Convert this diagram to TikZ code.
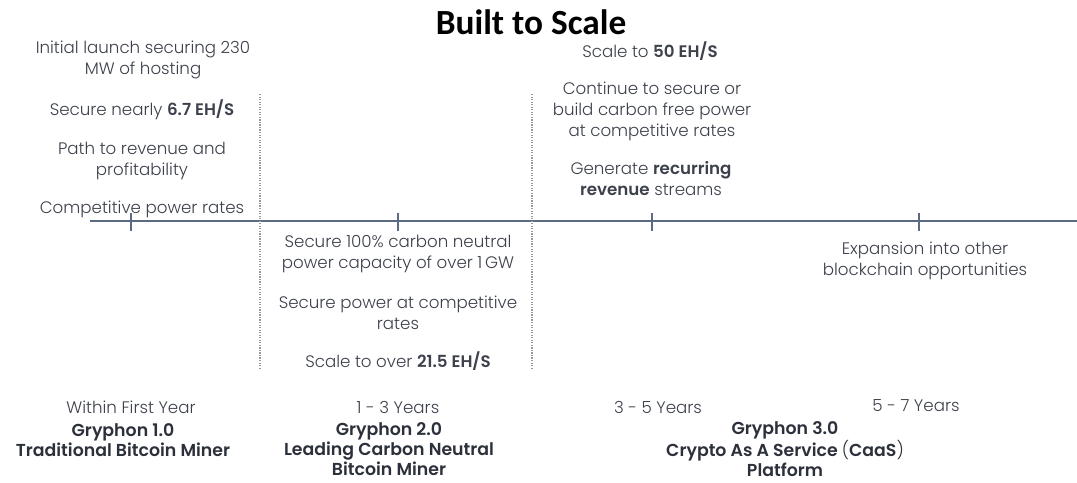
\documentclass[tikz,border=0pt]{standalone}
\usepackage{fontspec}
\setmainfont{Poppins}[UprightFont=* Light,BoldFont=* SemiBold]
\newfontfamily\titlefont{Carlito}
\usepackage{tikz}
\definecolor{gtext}{HTML}{3D414C}
\definecolor{gdark}{HTML}{2C303B}
\definecolor{gline}{HTML}{5B6A85}
\definecolor{gdots}{HTML}{9A9A9A}

\begin{document}
\begin{tikzpicture}[x=0.75pt,y=-0.75pt,
  note/.style={align=center,inner sep=0pt,text=gtext,
    font=\fontsize{12.5}{15.75}\selectfont},
  period/.style={align=center,inner sep=0pt,text=gtext,
    font=\fontsize{12.5}{15}\selectfont},
  stage/.style={align=center,inner sep=0pt,text=gdark,
    font=\fontsize{13}{15}\selectfont\bfseries},
  axis/.style={line width=1.3pt,gline},
  tick/.style={line width=0.9pt,gline},
  split/.style={densely dotted,line width=0.9pt,gdots}]
  \useasboundingbox[fill=white] (0,0) rectangle (1077,482);
  \node[font=\titlefont\fontsize{26.5}{30}\selectfont\bfseries] (title) at (531,22) {Built to Scale};

  % timeline with ticks and phase separators
  \coordinate (axisL) at (90,221);
  \coordinate (axisR) at (1077,221);
  \draw[axis] (axisL) -- (axisR);
  \foreach \x in {131,398,652,919}
    \draw[tick] (\x,213) -- (\x,231);
  \coordinate (sepAtop) at (260,94);
  \coordinate (sepAbot) at (260,368);
  \coordinate (sepBtop) at (532,94);
  \coordinate (sepBbot) at (532,368);
  \draw[split] (sepAtop) -- (sepAbot);
  \draw[split] (sepBtop) -- (sepBbot);

  % milestones above and below the line
  \node[note] (launch) at (143,60)    {Initial launch securing 230\\MW of hosting};
  \node[note] (hashA)  at (142,110)   {Secure nearly \textbf{6.7 EH/S}};
  \node[note] (path)   at (142,160.5) {Path to revenue and\\profitability};
  \node[note] (ratesA) at (142,209)   {Competitive power rates};
  \node[note] (carbon) at (398,254)   {Secure 100\% carbon neutral\\power capacity of over 1\,GW};
  \node[note] (ratesB) at (398,313)   {Secure power at competitive\\rates};
  \node[note] (hashB)  at (398,361)   {Scale to over \textbf{21.5 EH/S}};
  \node[note] (hashC)  at (650,51)    {Scale to \textbf{50 EH/S}};
  \node[note] (green)  at (652,111)   {Continue to secure or\\build carbon free power\\at competitive rates};
  \node[note] (recur)  at (651,179)   {Generate \textbf{recurring}\\\textbf{revenue} streams};
  \node[note] (expand) at (925,261)   {Expansion into other\\blockchain opportunities};

  % phases
  \node[period] (yrA) at (131,407) {Within First Year};
  \node[period] (yrB) at (398,407) {1 - 3 Years};
  \node[period] (yrC) at (658,407) {3 - 5 Years};
  \node[period] (yrD) at (916,406) {5 - 7 Years};
  \node[stage] (gryA) at (123,440) {Gryphon 1.0\\Traditional Bitcoin Miner};
  \node[stage] (gryB) at (389,449) {Gryphon 2.0\\Leading Carbon Neutral\\Bitcoin Miner};
  \node[stage] (gryC) at (785,449) {Gryphon 3.0\\Crypto As A Service {\mdseries(}CaaS{\mdseries)}\\Platform};
\end{tikzpicture}
\end{document}
